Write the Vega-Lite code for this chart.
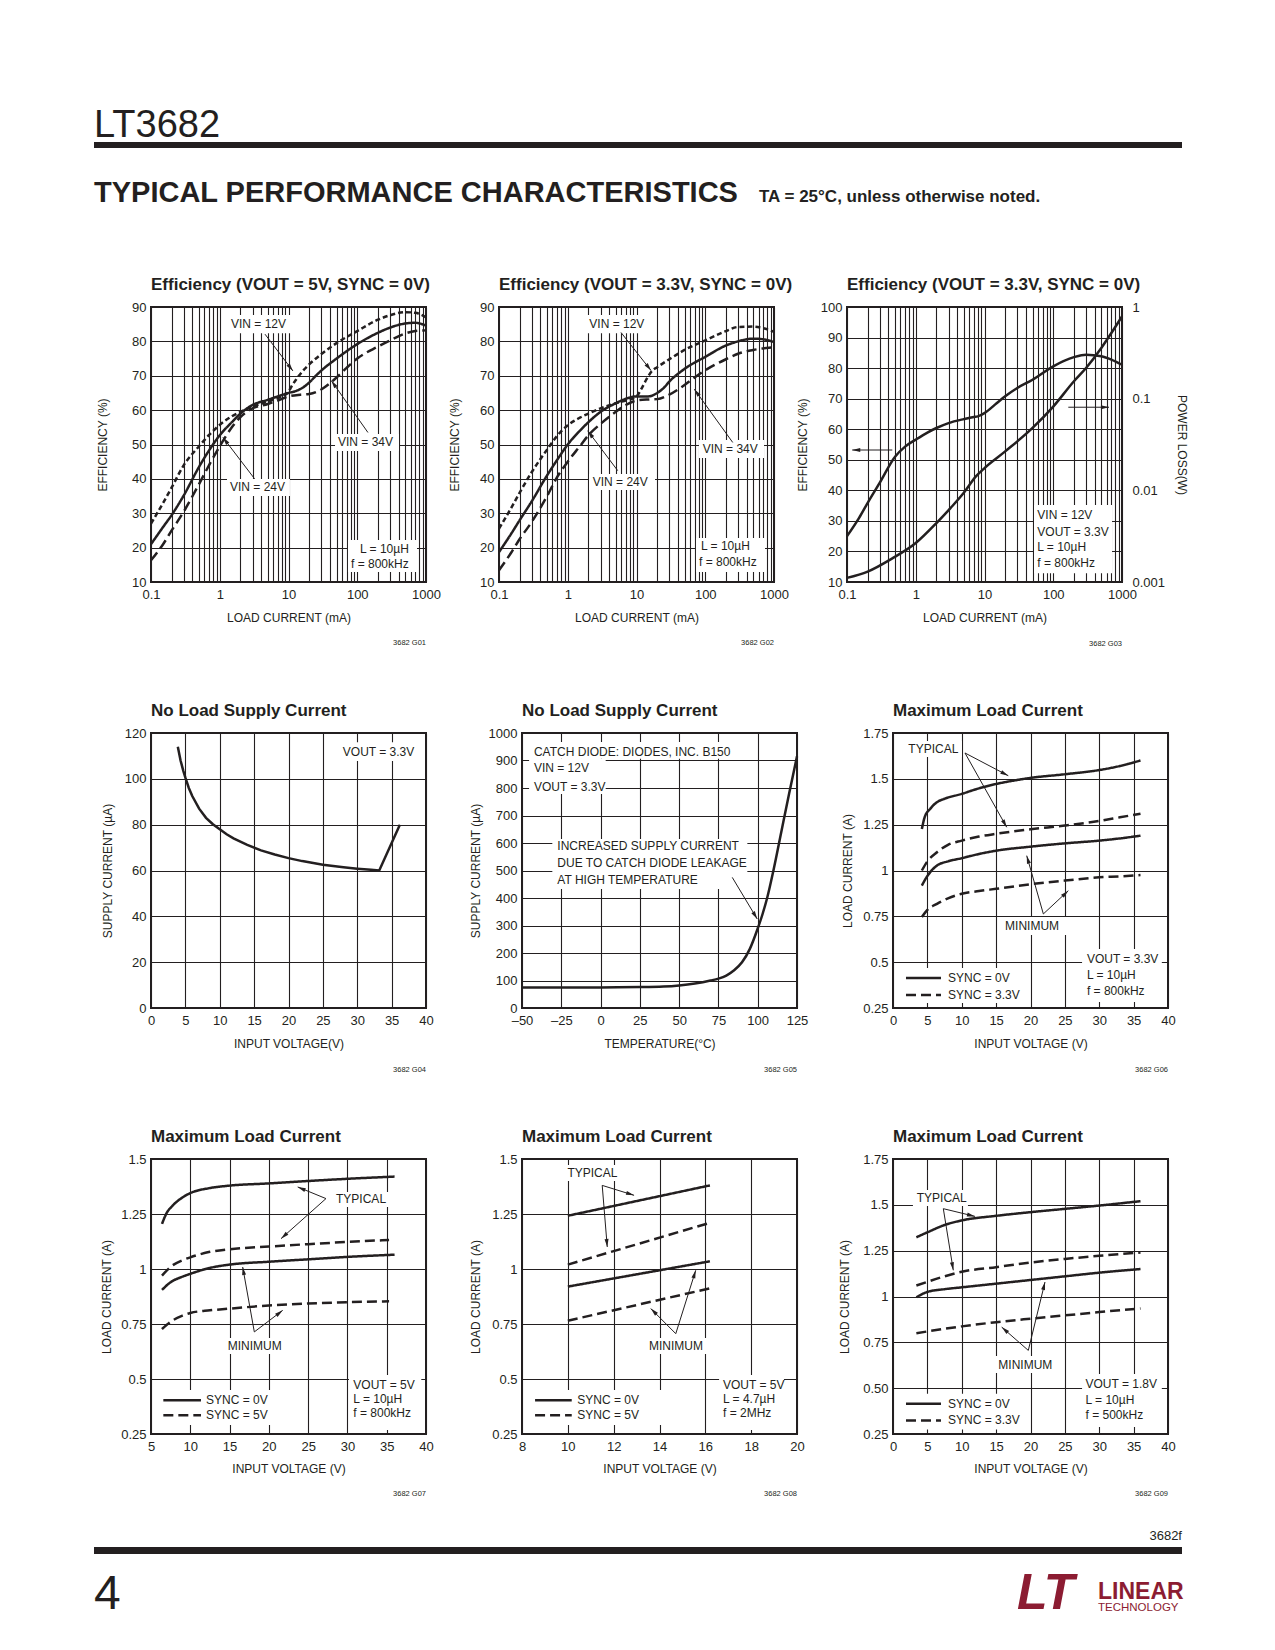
{
"$schema": "https://vega.github.io/schema/vega-lite/v6.json",
"background": "white",
"padding": {"left": 94, "top": 100, "right": 10, "bottom": 10},
"autosize": {"type": "pad"},
"config": {
  "font": "Liberation Sans, Arial, sans-serif",
  "view": {"stroke": "#231f20", "strokeWidth": 2},
  "axis": {"domain": false, "ticks": false, "grid": true, "gridColor": "#231f20", "gridWidth": 1.1, "gridOpacity": 1, "labelColor": "#231f20", "labelFontSize": 13, "labelPadding": 5, "labelFlush": false, "labelOverlap": false, "titleColor": "#231f20", "titleFontSize": 12, "titleFontWeight": "normal"},
  "axisX": {"labelPadding": 6, "titlePadding": 11},
  "title": {"anchor": "start", "frame": "group", "fontSize": 17, "fontWeight": "bold", "color": "#231f20", "offset": 7},
  "text": {"color": "#231f20", "fontSize": 12},
  "line": {"color": "#231f20", "strokeWidth": 2.5},
  "rule": {"color": "#231f20"}
},
"datasets": {
  "c1": [
    {"s":"VIN = 12V","x":0.1,"y":27},{"s":"VIN = 12V","x":0.15,"y":33},{"s":"VIN = 12V","x":0.2,"y":37.5},{"s":"VIN = 12V","x":0.3,"y":44},{"s":"VIN = 12V","x":0.5,"y":49.5},{"s":"VIN = 12V","x":0.7,"y":52.8},{"s":"VIN = 12V","x":1,"y":55.7},{"s":"VIN = 12V","x":1.5,"y":58.2},{"s":"VIN = 12V","x":2,"y":59.5},{"s":"VIN = 12V","x":3,"y":61},{"s":"VIN = 12V","x":5,"y":62.5},{"s":"VIN = 12V","x":7,"y":63.5},{"s":"VIN = 12V","x":9,"y":64.5},{"s":"VIN = 12V","x":10,"y":65.3},{"s":"VIN = 12V","x":11,"y":66.8},{"s":"VIN = 12V","x":13,"y":69},{"s":"VIN = 12V","x":16,"y":71.3},{"s":"VIN = 12V","x":20,"y":73.3},{"s":"VIN = 12V","x":30,"y":76.3},{"s":"VIN = 12V","x":50,"y":79.5},{"s":"VIN = 12V","x":100,"y":83},{"s":"VIN = 12V","x":200,"y":86.3},{"s":"VIN = 12V","x":300,"y":87.6},{"s":"VIN = 12V","x":500,"y":88.5},{"s":"VIN = 12V","x":700,"y":88.3},{"s":"VIN = 12V","x":1000,"y":87},
    {"s":"VIN = 24V","x":0.1,"y":21},{"s":"VIN = 24V","x":0.15,"y":26},{"s":"VIN = 24V","x":0.2,"y":29.5},{"s":"VIN = 24V","x":0.3,"y":35.2},{"s":"VIN = 24V","x":0.5,"y":43.5},{"s":"VIN = 24V","x":0.7,"y":48.3},{"s":"VIN = 24V","x":1,"y":52.7},{"s":"VIN = 24V","x":1.5,"y":56.5},{"s":"VIN = 24V","x":2,"y":59},{"s":"VIN = 24V","x":3,"y":61.5},{"s":"VIN = 24V","x":5,"y":63},{"s":"VIN = 24V","x":7,"y":64},{"s":"VIN = 24V","x":10,"y":65},{"s":"VIN = 24V","x":13,"y":65.6},{"s":"VIN = 24V","x":16,"y":66.5},{"s":"VIN = 24V","x":20,"y":68},{"s":"VIN = 24V","x":25,"y":70},{"s":"VIN = 24V","x":30,"y":71.5},{"s":"VIN = 24V","x":50,"y":75},{"s":"VIN = 24V","x":100,"y":79.2},{"s":"VIN = 24V","x":200,"y":82.5},{"s":"VIN = 24V","x":300,"y":84},{"s":"VIN = 24V","x":500,"y":85.2},{"s":"VIN = 24V","x":700,"y":85.4},{"s":"VIN = 24V","x":1000,"y":84.6},
    {"s":"VIN = 34V","x":0.1,"y":16.3},{"s":"VIN = 34V","x":0.15,"y":21},{"s":"VIN = 34V","x":0.2,"y":25},{"s":"VIN = 34V","x":0.3,"y":30.5},{"s":"VIN = 34V","x":0.5,"y":38.5},{"s":"VIN = 34V","x":0.7,"y":44},{"s":"VIN = 34V","x":1,"y":49.5},{"s":"VIN = 34V","x":1.5,"y":55},{"s":"VIN = 34V","x":2,"y":58},{"s":"VIN = 34V","x":3,"y":60.5},{"s":"VIN = 34V","x":5,"y":61.8},{"s":"VIN = 34V","x":7,"y":62.8},{"s":"VIN = 34V","x":10,"y":64},{"s":"VIN = 34V","x":15,"y":64.5},{"s":"VIN = 34V","x":20,"y":64.7},{"s":"VIN = 34V","x":30,"y":66},{"s":"VIN = 34V","x":40,"y":67.8},{"s":"VIN = 34V","x":50,"y":69.5},{"s":"VIN = 34V","x":70,"y":72.3},{"s":"VIN = 34V","x":100,"y":75},{"s":"VIN = 34V","x":200,"y":78.5},{"s":"VIN = 34V","x":300,"y":80.3},{"s":"VIN = 34V","x":500,"y":82.3},{"s":"VIN = 34V","x":700,"y":83},{"s":"VIN = 34V","x":1000,"y":83.2}
  ],
  "c1_box": [{"x":1.275,"y":87.7,"x2":12.0,"y2":82.4},{"x":1.275,"y":40,"x2":10.5,"y2":35},{"x":47.5,"y":53.05,"x2":405,"y2":48.1},{"x":73.3,"y":22.2,"x2":740,"y2":12.9}],
  "c1_arrow": [{"x":11.6,"y":71.4,"x2":4.55,"y2":82.1,"a":143},{"x":1.11,"y":52.1,"x2":3.22,"y2":40,"a":-37},{"x":41.9,"y":68.6,"x2":143,"y2":53.5,"a":-35}],
  "c1_text": [{"t":"VIN = 12V","x":1.458,"y":85.05},{"t":"VIN = 24V","x":1.41,"y":37.5},{"t":"VIN = 34V","x":52.5,"y":50.6},{"t":"L = 10µH","x":109.7,"y":19.6},{"t":"f = 800kHz","x":81.1,"y":15.2}],
  "c2": [
    {"s":"VIN = 12V","x":0.1,"y":25.5},{"s":"VIN = 12V","x":0.15,"y":31.5},{"s":"VIN = 12V","x":0.2,"y":36},{"s":"VIN = 12V","x":0.3,"y":42},{"s":"VIN = 12V","x":0.5,"y":48.5},{"s":"VIN = 12V","x":0.7,"y":52.5},{"s":"VIN = 12V","x":1,"y":55.6},{"s":"VIN = 12V","x":1.5,"y":57.8},{"s":"VIN = 12V","x":2,"y":59},{"s":"VIN = 12V","x":3,"y":60.5},{"s":"VIN = 12V","x":5,"y":62},{"s":"VIN = 12V","x":7,"y":62.8},{"s":"VIN = 12V","x":10,"y":64},{"s":"VIN = 12V","x":12,"y":66.5},{"s":"VIN = 12V","x":14,"y":69},{"s":"VIN = 12V","x":17,"y":71.5},{"s":"VIN = 12V","x":20,"y":72.5},{"s":"VIN = 12V","x":30,"y":74.8},{"s":"VIN = 12V","x":50,"y":77.5},{"s":"VIN = 12V","x":100,"y":80.3},{"s":"VIN = 12V","x":200,"y":83},{"s":"VIN = 12V","x":300,"y":84.2},{"s":"VIN = 12V","x":500,"y":84.3},{"s":"VIN = 12V","x":700,"y":83.8},{"s":"VIN = 12V","x":1000,"y":82.8},
    {"s":"VIN = 24V","x":0.1,"y":18.7},{"s":"VIN = 24V","x":0.15,"y":24},{"s":"VIN = 24V","x":0.2,"y":28},{"s":"VIN = 24V","x":0.3,"y":33.5},{"s":"VIN = 24V","x":0.5,"y":41},{"s":"VIN = 24V","x":0.7,"y":45.5},{"s":"VIN = 24V","x":1,"y":50},{"s":"VIN = 24V","x":1.5,"y":54},{"s":"VIN = 24V","x":2,"y":56.5},{"s":"VIN = 24V","x":3,"y":59.5},{"s":"VIN = 24V","x":5,"y":62},{"s":"VIN = 24V","x":7,"y":63.3},{"s":"VIN = 24V","x":10,"y":64},{"s":"VIN = 24V","x":15,"y":64},{"s":"VIN = 24V","x":20,"y":65},{"s":"VIN = 24V","x":25,"y":66.5},{"s":"VIN = 24V","x":30,"y":68.3},{"s":"VIN = 24V","x":50,"y":72},{"s":"VIN = 24V","x":100,"y":75.5},{"s":"VIN = 24V","x":200,"y":78.8},{"s":"VIN = 24V","x":300,"y":80},{"s":"VIN = 24V","x":500,"y":80.8},{"s":"VIN = 24V","x":700,"y":80.6},{"s":"VIN = 24V","x":1000,"y":79.8},
    {"s":"VIN = 34V","x":0.1,"y":13.4},{"s":"VIN = 34V","x":0.15,"y":18.5},{"s":"VIN = 34V","x":0.2,"y":22.5},{"s":"VIN = 34V","x":0.3,"y":27.5},{"s":"VIN = 34V","x":0.5,"y":35},{"s":"VIN = 34V","x":0.7,"y":40.5},{"s":"VIN = 34V","x":1,"y":45},{"s":"VIN = 34V","x":1.5,"y":49.5},{"s":"VIN = 34V","x":2,"y":52.7},{"s":"VIN = 34V","x":3,"y":56},{"s":"VIN = 34V","x":5,"y":59.5},{"s":"VIN = 34V","x":7,"y":61.5},{"s":"VIN = 34V","x":10,"y":62.8},{"s":"VIN = 34V","x":15,"y":63.1},{"s":"VIN = 34V","x":20,"y":63.2},{"s":"VIN = 34V","x":30,"y":64.5},{"s":"VIN = 34V","x":50,"y":67.3},{"s":"VIN = 34V","x":70,"y":69.5},{"s":"VIN = 34V","x":100,"y":71.6},{"s":"VIN = 34V","x":200,"y":74.8},{"s":"VIN = 34V","x":300,"y":76.4},{"s":"VIN = 34V","x":500,"y":77.5},{"s":"VIN = 34V","x":1000,"y":78.3}
  ],
  "c2_box": [{"x":1.84,"y":87.7,"x2":18.6,"y2":82.4},{"x":2.04,"y":41.4,"x2":18.6,"y2":36.8},{"x":81,"y":51.3,"x2":716,"y2":46.1},{"x":73.3,"y":22.8,"x2":740,"y2":12.9}],
  "c2_arrow": [{"x":16.3,"y":71.5,"x2":5.95,"y2":82.6,"a":142},{"x":1.95,"y":54,"x2":5.33,"y2":42.4,"a":-37},{"x":69.3,"y":66.1,"x2":251,"y2":50.6,"a":-36}],
  "c2_text": [{"t":"VIN = 12V","x":2.06,"y":85.05},{"t":"VIN = 24V","x":2.31,"y":39.2},{"t":"VIN = 34V","x":91.8,"y":48.7},{"t":"L = 10µH","x":86.7,"y":20.5},{"t":"f = 800kHz","x":81.1,"y":15.8}],
  "c3_eff": [{"x":0.1,"y":25},{"x":0.15,"y":31},{"x":0.2,"y":35.9},{"x":0.3,"y":42.5},{"x":0.5,"y":51},{"x":0.7,"y":54.3},{"x":1,"y":56.6},{"x":1.5,"y":59},{"x":2,"y":60.4},{"x":3,"y":62},{"x":5,"y":63.3},{"x":7,"y":64},{"x":8,"y":64.2},{"x":10,"y":65.3},{"x":15,"y":68.5},{"x":20,"y":70.8},{"x":30,"y":73.5},{"x":50,"y":76.2},{"x":100,"y":80.6},{"x":200,"y":83.6},{"x":300,"y":84.4},{"x":500,"y":83.9},{"x":700,"y":82.8},{"x":1000,"y":81.1}],
  "c3_loss": [{"x":0.1,"y":0.00111},{"x":0.2,"y":0.0013},{"x":0.45,"y":0.0018},{"x":1,"y":0.00266},{"x":2,"y":0.0044},{"x":3.2,"y":0.0064},{"x":5,"y":0.0094},{"x":7.5,"y":0.0142},{"x":10,"y":0.0175},{"x":20,"y":0.0266},{"x":50,"y":0.048},{"x":100,"y":0.082},{"x":200,"y":0.155},{"x":300,"y":0.216},{"x":500,"y":0.357},{"x":700,"y":0.52},{"x":1000,"y":0.79}],
  "c3_box": [{"x":52.5,"y":35.2,"x2":716,"y2":12.9}],
  "c3_arrow": [{"x":0.119,"y":53.2,"x2":0.456,"y2":53.2,"a":-90},{"x":647,"y":67.2,"x2":165.6,"y2":67.2,"a":90}],
  "c3_text": [{"t":"VIN = 12V","x":58.6,"y":31.9},{"t":"VOUT = 3.3V","x":58.6,"y":26.4},{"t":"L = 10µH","x":58.6,"y":21.5},{"t":"f = 800kHz","x":58.6,"y":16.1}],
  "c4": [{"x":3.9,"y":114},{"x":4.3,"y":108},{"x":4.7,"y":103.5},{"x":5,"y":100.5},{"x":5.5,"y":96},{"x":6,"y":92.5},{"x":7,"y":87},{"x":8,"y":83},{"x":9,"y":80.2},{"x":10,"y":78},{"x":11,"y":75.8},{"x":12,"y":74},{"x":14,"y":71.2},{"x":16,"y":68.8},{"x":18,"y":67},{"x":20,"y":65.4},{"x":22,"y":64.1},{"x":25,"y":62.5},{"x":28,"y":61.4},{"x":30,"y":60.8},{"x":32,"y":60.3},{"x":33.2,"y":60},{"x":36.2,"y":80}],
  "c4_box": [{"x":27.3,"y":116,"x2":38.5,"y2":107.8}],
  "c4_text": [{"t":"VOUT = 3.3V","x":27.9,"y":111.7}],
  "c5": [{"x":-50,"y":75},{"x":-25,"y":75},{"x":0,"y":75},{"x":25,"y":76},{"x":40,"y":78},{"x":50,"y":82},{"x":60,"y":89},{"x":70,"y":100},{"x":75,"y":107},{"x":80,"y":118},{"x":85,"y":137},{"x":90,"y":166},{"x":95,"y":215},{"x":100,"y":289},{"x":103,"y":340},{"x":106,"y":400},{"x":110,"y":500},{"x":115,"y":640},{"x":120,"y":780},{"x":125,"y":915}],
  "c5_box": [{"x":-45.5,"y":967,"x2":88.1,"y2":906},{"x":-45.5,"y":906,"x2":3.25,"y2":778},{"x":-30.7,"y":614.5,"x2":93.4,"y2":432.7}],
  "c5_arrow": [{"x":99.7,"y":323.6,"x2":83.8,"y2":475,"a":149}],
  "c5_text": [{"t":"CATCH DIODE: DIODES, INC. B150","x":-42.4,"y":932},{"t":"VIN = 12V","x":-42.4,"y":871.5},{"t":"VOUT = 3.3V","x":-42.4,"y":804.7},{"t":"INCREASED SUPPLY CURRENT","x":-27.5,"y":590},{"t":"DUE TO CATCH DIODE LEAKAGE","x":-27.5,"y":527},{"t":"AT HIGH TEMPERATURE","x":-27.5,"y":466.7}],
  "c6": [
    {"k":"TYPICAL","s":"SYNC = 0V","x":4.2,"y":1.227},{"k":"TYPICAL","s":"SYNC = 0V","x":4.6,"y":1.29},{"k":"TYPICAL","s":"SYNC = 0V","x":5.4,"y":1.336},{"k":"TYPICAL","s":"SYNC = 0V","x":6.5,"y":1.375},{"k":"TYPICAL","s":"SYNC = 0V","x":7.4,"y":1.39},{"k":"TYPICAL","s":"SYNC = 0V","x":10,"y":1.418},{"k":"TYPICAL","s":"SYNC = 0V","x":12.5,"y":1.448},{"k":"TYPICAL","s":"SYNC = 0V","x":15,"y":1.472},{"k":"TYPICAL","s":"SYNC = 0V","x":17.5,"y":1.49},{"k":"TYPICAL","s":"SYNC = 0V","x":20,"y":1.505},{"k":"TYPICAL","s":"SYNC = 0V","x":25,"y":1.525},{"k":"TYPICAL","s":"SYNC = 0V","x":30,"y":1.548},{"k":"TYPICAL","s":"SYNC = 0V","x":33,"y":1.57},{"k":"TYPICAL","s":"SYNC = 0V","x":36,"y":1.6},
    {"k":"TYPICAL","s":"SYNC = 3.3V","x":4.2,"y":1.0},{"k":"TYPICAL","s":"SYNC = 3.3V","x":5,"y":1.05},{"k":"TYPICAL","s":"SYNC = 3.3V","x":6.4,"y":1.1},{"k":"TYPICAL","s":"SYNC = 3.3V","x":8,"y":1.14},{"k":"TYPICAL","s":"SYNC = 3.3V","x":10,"y":1.163},{"k":"TYPICAL","s":"SYNC = 3.3V","x":12.5,"y":1.185},{"k":"TYPICAL","s":"SYNC = 3.3V","x":15,"y":1.2},{"k":"TYPICAL","s":"SYNC = 3.3V","x":20,"y":1.225},{"k":"TYPICAL","s":"SYNC = 3.3V","x":25,"y":1.245},{"k":"TYPICAL","s":"SYNC = 3.3V","x":30,"y":1.27},{"k":"TYPICAL","s":"SYNC = 3.3V","x":33,"y":1.29},{"k":"TYPICAL","s":"SYNC = 3.3V","x":36,"y":1.31},
    {"k":"MINIMUM","s":"SYNC = 0V","x":4.2,"y":0.918},{"k":"MINIMUM","s":"SYNC = 0V","x":5,"y":0.97},{"k":"MINIMUM","s":"SYNC = 0V","x":6.4,"y":1.027},{"k":"MINIMUM","s":"SYNC = 0V","x":8,"y":1.05},{"k":"MINIMUM","s":"SYNC = 0V","x":10,"y":1.067},{"k":"MINIMUM","s":"SYNC = 0V","x":12.5,"y":1.09},{"k":"MINIMUM","s":"SYNC = 0V","x":15,"y":1.108},{"k":"MINIMUM","s":"SYNC = 0V","x":20,"y":1.13},{"k":"MINIMUM","s":"SYNC = 0V","x":25,"y":1.148},{"k":"MINIMUM","s":"SYNC = 0V","x":30,"y":1.163},{"k":"MINIMUM","s":"SYNC = 0V","x":33,"y":1.175},{"k":"MINIMUM","s":"SYNC = 0V","x":36,"y":1.19},
    {"k":"MINIMUM","s":"SYNC = 3.3V","x":4.2,"y":0.746},{"k":"MINIMUM","s":"SYNC = 3.3V","x":5,"y":0.785},{"k":"MINIMUM","s":"SYNC = 3.3V","x":6.4,"y":0.818},{"k":"MINIMUM","s":"SYNC = 3.3V","x":8,"y":0.848},{"k":"MINIMUM","s":"SYNC = 3.3V","x":10,"y":0.873},{"k":"MINIMUM","s":"SYNC = 3.3V","x":12.5,"y":0.888},{"k":"MINIMUM","s":"SYNC = 3.3V","x":15,"y":0.9},{"k":"MINIMUM","s":"SYNC = 3.3V","x":20,"y":0.925},{"k":"MINIMUM","s":"SYNC = 3.3V","x":25,"y":0.945},{"k":"MINIMUM","s":"SYNC = 3.3V","x":30,"y":0.963},{"k":"MINIMUM","s":"SYNC = 3.3V","x":33,"y":0.968},{"k":"MINIMUM","s":"SYNC = 3.3V","x":36,"y":0.975}
  ],
  "c6_box": [{"x":1.75,"y":1.706,"x2":10.03,"y2":1.619},{"x":15.85,"y":0.746,"x2":25.45,"y2":0.648},{"x":27.5,"y":0.572,"x2":39.1,"y2":0.283},{"x":1.16,"y":0.468,"x2":19.5,"y2":0.277}],
  "c6_arrow": [{"x":16.77,"y":1.517,"x2":10.47,"y2":1.641,"a":118},{"x":16.54,"y":1.236,"x2":10.47,"y2":1.641,"a":151},{"x":19.45,"y":1.081,"x2":21.87,"y2":0.763,"a":-16},{"x":25.5,"y":0.89,"x2":21.87,"y2":0.763,"a":47}],
  "c6_leg": [{"x":1.89,"x2":6.98,"y":0.414,"s":"SYNC = 0V"},{"x":1.89,"x2":6.98,"y":0.321,"s":"SYNC = 3.3V"}],
  "c6_text": [{"t":"TYPICAL","x":2.23,"y":1.663},{"t":"MINIMUM","x":16.3,"y":0.699},{"t":"VOUT = 3.3V","x":28.2,"y":0.517},{"t":"L = 10µH","x":28.2,"y":0.43},{"t":"f = 800kHz","x":28.2,"y":0.343},{"t":"SYNC = 0V","x":8.0,"y":0.414},{"t":"SYNC = 3.3V","x":8.0,"y":0.321}],
  "c7": [
    {"k":"TYPICAL","s":"SYNC = 0V","x":6.4,"y":1.205},{"k":"TYPICAL","s":"SYNC = 0V","x":7,"y":1.255},{"k":"TYPICAL","s":"SYNC = 0V","x":7.75,"y":1.288},{"k":"TYPICAL","s":"SYNC = 0V","x":9,"y":1.325},{"k":"TYPICAL","s":"SYNC = 0V","x":10,"y":1.345},{"k":"TYPICAL","s":"SYNC = 0V","x":12.5,"y":1.368},{"k":"TYPICAL","s":"SYNC = 0V","x":15,"y":1.379},{"k":"TYPICAL","s":"SYNC = 0V","x":20,"y":1.389},{"k":"TYPICAL","s":"SYNC = 0V","x":25,"y":1.4},{"k":"TYPICAL","s":"SYNC = 0V","x":30,"y":1.41},{"k":"TYPICAL","s":"SYNC = 0V","x":36,"y":1.42},
    {"k":"TYPICAL","s":"SYNC = 5V","x":6.4,"y":0.97},{"k":"TYPICAL","s":"SYNC = 5V","x":7.5,"y":1.01},{"k":"TYPICAL","s":"SYNC = 5V","x":9,"y":1.04},{"k":"TYPICAL","s":"SYNC = 5V","x":10,"y":1.053},{"k":"TYPICAL","s":"SYNC = 5V","x":12.5,"y":1.078},{"k":"TYPICAL","s":"SYNC = 5V","x":15,"y":1.09},{"k":"TYPICAL","s":"SYNC = 5V","x":20,"y":1.102},{"k":"TYPICAL","s":"SYNC = 5V","x":25,"y":1.113},{"k":"TYPICAL","s":"SYNC = 5V","x":30,"y":1.123},{"k":"TYPICAL","s":"SYNC = 5V","x":35.3,"y":1.132},
    {"k":"MINIMUM","s":"SYNC = 0V","x":6.4,"y":0.905},{"k":"MINIMUM","s":"SYNC = 0V","x":7.5,"y":0.94},{"k":"MINIMUM","s":"SYNC = 0V","x":9,"y":0.965},{"k":"MINIMUM","s":"SYNC = 0V","x":10,"y":0.978},{"k":"MINIMUM","s":"SYNC = 0V","x":12.5,"y":1.005},{"k":"MINIMUM","s":"SYNC = 0V","x":15,"y":1.02},{"k":"MINIMUM","s":"SYNC = 0V","x":20,"y":1.033},{"k":"MINIMUM","s":"SYNC = 0V","x":25,"y":1.044},{"k":"MINIMUM","s":"SYNC = 0V","x":30,"y":1.055},{"k":"MINIMUM","s":"SYNC = 0V","x":36,"y":1.065},
    {"k":"MINIMUM","s":"SYNC = 5V","x":6.4,"y":0.727},{"k":"MINIMUM","s":"SYNC = 5V","x":7.5,"y":0.76},{"k":"MINIMUM","s":"SYNC = 5V","x":9,"y":0.788},{"k":"MINIMUM","s":"SYNC = 5V","x":10,"y":0.8},{"k":"MINIMUM","s":"SYNC = 5V","x":12.5,"y":0.812},{"k":"MINIMUM","s":"SYNC = 5V","x":15,"y":0.82},{"k":"MINIMUM","s":"SYNC = 5V","x":20,"y":0.834},{"k":"MINIMUM","s":"SYNC = 5V","x":25,"y":0.843},{"k":"MINIMUM","s":"SYNC = 5V","x":30,"y":0.849},{"k":"MINIMUM","s":"SYNC = 5V","x":35.3,"y":0.853}
  ],
  "c7_box": [{"x":28.2,"y":1.35,"x2":35.3,"y2":1.282},{"x":14.3,"y":0.686,"x2":22.7,"y2":0.614},{"x":30.2,"y":0.518,"x2":39.4,"y2":0.268},{"x":5.9,"y":0.45,"x2":23.2,"y2":0.291}],
  "c7_arrow": [{"x":23.67,"y":1.373,"x2":27.27,"y2":1.32,"a":-67},{"x":21.55,"y":1.138,"x2":27.27,"y2":1.32,"a":-132},{"x":16.67,"y":1.009,"x2":18.15,"y2":0.714,"a":-10},{"x":21.76,"y":0.812,"x2":18.15,"y2":0.714,"a":52}],
  "c7_leg": [{"x":6.57,"x2":11.36,"y":0.403,"s":"SYNC = 0V"},{"x":6.57,"x2":11.36,"y":0.335,"s":"SYNC = 5V"}],
  "c7_text": [{"t":"TYPICAL","x":28.55,"y":1.316},{"t":"MINIMUM","x":14.76,"y":0.65},{"t":"VOUT = 5V","x":30.75,"y":0.471},{"t":"L = 10µH","x":30.75,"y":0.41},{"t":"f = 800kHz","x":30.75,"y":0.345},{"t":"SYNC = 0V","x":12.0,"y":0.403},{"t":"SYNC = 5V","x":12.0,"y":0.335}],
  "c8": [
    {"k":"TYPICAL","s":"SYNC = 0V","x":10,"y":1.242},{"k":"TYPICAL","s":"SYNC = 0V","x":16.2,"y":1.38},
    {"k":"TYPICAL","s":"SYNC = 5V","x":10,"y":1.02},{"k":"TYPICAL","s":"SYNC = 5V","x":16.2,"y":1.21},
    {"k":"MINIMUM","s":"SYNC = 0V","x":10,"y":0.92},{"k":"MINIMUM","s":"SYNC = 0V","x":16.2,"y":1.035},
    {"k":"MINIMUM","s":"SYNC = 5V","x":10,"y":0.765},{"k":"MINIMUM","s":"SYNC = 5V","x":16.2,"y":0.912}
  ],
  "c8_box": [{"x":9.83,"y":1.473,"x2":12.23,"y2":1.4},{"x":13.41,"y":0.686,"x2":16.29,"y2":0.614},{"x":16.6,"y":0.518,"x2":19.43,"y2":0.268},{"x":8.35,"y":0.45,"x2":14.28,"y2":0.291}],
  "c8_arrow": [{"x":12.89,"y":1.335,"x2":11.5,"y2":1.38,"a":107},{"x":11.72,"y":1.1,"x2":11.5,"y2":1.38,"a":175},{"x":15.58,"y":0.994,"x2":14.71,"y2":0.706,"a":17},{"x":13.62,"y":0.82,"x2":14.71,"y2":0.706,"a":-45}],
  "c8_leg": [{"x":8.57,"x2":10.17,"y":0.403,"s":"SYNC = 0V"},{"x":8.57,"x2":10.17,"y":0.335,"s":"SYNC = 5V"}],
  "c8_text": [{"t":"TYPICAL","x":9.98,"y":1.436},{"t":"MINIMUM","x":13.54,"y":0.65},{"t":"VOUT = 5V","x":16.77,"y":0.471},{"t":"L = 4.7µH","x":16.77,"y":0.41},{"t":"f = 2MHz","x":16.77,"y":0.345},{"t":"SYNC = 0V","x":10.41,"y":0.403},{"t":"SYNC = 5V","x":10.41,"y":0.335}],
  "c9": [
    {"k":"TYPICAL","s":"SYNC = 0V","x":3.4,"y":1.323},{"k":"TYPICAL","s":"SYNC = 0V","x":5,"y":1.35},{"k":"TYPICAL","s":"SYNC = 0V","x":7.5,"y":1.39},{"k":"TYPICAL","s":"SYNC = 0V","x":10,"y":1.415},{"k":"TYPICAL","s":"SYNC = 0V","x":15,"y":1.44},{"k":"TYPICAL","s":"SYNC = 0V","x":20,"y":1.46},{"k":"TYPICAL","s":"SYNC = 0V","x":25,"y":1.478},{"k":"TYPICAL","s":"SYNC = 0V","x":30,"y":1.496},{"k":"TYPICAL","s":"SYNC = 0V","x":36,"y":1.52},
    {"k":"TYPICAL","s":"SYNC = 3.3V","x":3.4,"y":1.06},{"k":"TYPICAL","s":"SYNC = 3.3V","x":5,"y":1.08},{"k":"TYPICAL","s":"SYNC = 3.3V","x":7.5,"y":1.11},{"k":"TYPICAL","s":"SYNC = 3.3V","x":10,"y":1.135},{"k":"TYPICAL","s":"SYNC = 3.3V","x":15,"y":1.16},{"k":"TYPICAL","s":"SYNC = 3.3V","x":20,"y":1.185},{"k":"TYPICAL","s":"SYNC = 3.3V","x":25,"y":1.205},{"k":"TYPICAL","s":"SYNC = 3.3V","x":30,"y":1.222},{"k":"TYPICAL","s":"SYNC = 3.3V","x":36,"y":1.24},
    {"k":"MINIMUM","s":"SYNC = 0V","x":3.4,"y":0.996},{"k":"MINIMUM","s":"SYNC = 0V","x":5,"y":1.025},{"k":"MINIMUM","s":"SYNC = 0V","x":7.5,"y":1.04},{"k":"MINIMUM","s":"SYNC = 0V","x":10,"y":1.05},{"k":"MINIMUM","s":"SYNC = 0V","x":15,"y":1.07},{"k":"MINIMUM","s":"SYNC = 0V","x":20,"y":1.09},{"k":"MINIMUM","s":"SYNC = 0V","x":25,"y":1.11},{"k":"MINIMUM","s":"SYNC = 0V","x":30,"y":1.13},{"k":"MINIMUM","s":"SYNC = 0V","x":36,"y":1.15},
    {"k":"MINIMUM","s":"SYNC = 3.3V","x":3.4,"y":0.8},{"k":"MINIMUM","s":"SYNC = 3.3V","x":10,"y":0.837},{"k":"MINIMUM","s":"SYNC = 3.3V","x":15,"y":0.86},{"k":"MINIMUM","s":"SYNC = 3.3V","x":20,"y":0.879},{"k":"MINIMUM","s":"SYNC = 3.3V","x":25,"y":0.897},{"k":"MINIMUM","s":"SYNC = 3.3V","x":30,"y":0.915},{"k":"MINIMUM","s":"SYNC = 3.3V","x":36,"y":0.935}
  ],
  "c9_box": [{"x":2.9,"y":1.581,"x2":10.9,"y2":1.494},{"x":14.8,"y":0.675,"x2":24.3,"y2":0.583},{"x":27.5,"y":0.577,"x2":39.1,"y2":0.288},{"x":1.16,"y":0.47,"x2":19.5,"y2":0.275}],
  "c9_arrow": [{"x":11.93,"y":1.437,"x2":7.32,"y2":1.479,"a":104},{"x":8.77,"y":1.143,"x2":7.32,"y2":1.479,"a":170},{"x":22.11,"y":1.079,"x2":19.68,"y2":0.706,"a":14},{"x":15.81,"y":0.833,"x2":19.68,"y2":0.706,"a":-49}],
  "c9_leg": [{"x":1.89,"x2":6.98,"y":0.415,"s":"SYNC = 0V"},{"x":1.89,"x2":6.98,"y":0.324,"s":"SYNC = 3.3V"}],
  "c9_text": [{"t":"TYPICAL","x":3.45,"y":1.537},{"t":"MINIMUM","x":15.32,"y":0.629},{"t":"VOUT = 1.8V","x":28.0,"y":0.524},{"t":"L = 10µH","x":28.0,"y":0.438},{"t":"f = 500kHz","x":28.0,"y":0.352},{"t":"SYNC = 0V","x":8.0,"y":0.415},{"t":"SYNC = 3.3V","x":8.0,"y":0.324}]
},
"resolve": {"scale": {"strokeDash": "independent"}},
"spacing": 0,
"vconcat": [
  {
    "width": 1031, "height": 175,
    "view": {"stroke": null},
    "encoding": {
      "x": {"field": "x", "type": "quantitative", "scale": {"domain": [0, 1031]}, "axis": null},
      "y": {"field": "y", "type": "quantitative", "scale": {"domain": [0, 175], "reverse": true}, "axis": null}
    },
    "layer": [
      {"data": {"values": [{"x": -57, "y": 42, "x2": 1031, "y2": 48}]}, "mark": {"type": "rect", "color": "#231f20"}, "encoding": {"x2": {"field": "x2"}, "y2": {"field": "y2"}}},
      {"data": {"values": [{"x": -57, "y": 37, "t": "LT3682"}]}, "mark": {"type": "text", "align": "left", "baseline": "alphabetic", "fontSize": 38}, "encoding": {"text": {"field": "t", "type": "nominal"}}},
      {"data": {"values": [{"x": -57, "y": 102, "t": "TYPICAL PERFORMANCE CHARACTERISTICS"}]}, "mark": {"type": "text", "align": "left", "baseline": "alphabetic", "fontSize": 29, "fontWeight": "bold"}, "encoding": {"text": {"field": "t", "type": "nominal"}}},
      {"data": {"values": [{"x": 608, "y": 102, "t": "TA = 25°C, unless otherwise noted."}]}, "mark": {"type": "text", "align": "left", "baseline": "alphabetic", "fontSize": 17, "fontWeight": "bold"}, "encoding": {"text": {"field": "t", "type": "nominal"}}}
    ]
  },
  {
    "resolve": {"scale": {"strokeDash": "independent"}},
    "spacing": 52,
    "vconcat": [
      {
        "bounds": "flush", "spacing": 73,
        "resolve": {"scale": {"strokeDash": "independent"}},
        "hconcat": [
          {
            "width": 275, "height": 275,
            "title": {"text": "Efficiency (VOUT = 5V, SYNC = 0V)"},
            "encoding": {
              "x": {"field": "x", "type": "quantitative", "scale": {"type": "log", "domain": [0.1, 1000]}, "axis": {"title": "LOAD CURRENT (mA)", "values": [0.1,0.2,0.3,0.4,0.5,0.6,0.7,0.8,0.9,1,2,3,4,5,6,7,8,9,10,20,30,40,50,60,70,80,90,100,200,300,400,500,600,700,800,900,1000], "format": "~g", "labelExpr": "(datum.value==0.1||datum.value==1||datum.value==10||datum.value==100||datum.value==1000)?datum.label:''"}},
              "y": {"field": "y", "type": "quantitative", "scale": {"domain": [10, 90]}, "axis": {"title": "EFFICIENCY (%)", "values": [10,20,30,40,50,60,70,80,90], "titlePadding": 22}}
            },
            "layer": [
              {"data": {"name": "c1_box"}, "mark": {"type": "rect", "color": "white"}, "encoding": {"x2": {"field": "x2"}, "y2": {"field": "y2"}}},
              {"data": {"name": "c1"}, "mark": {"type": "line", "interpolate": "monotone"}, "encoding": {"strokeDash": {"field": "s", "type": "nominal", "scale": {"domain": ["VIN = 12V", "VIN = 24V", "VIN = 34V"], "range": [[5,3],[1,0],[10,5]]}, "legend": null}}},
              {"data": {"name": "c1_arrow"}, "mark": {"type": "rule", "strokeWidth": 1}, "encoding": {"x2": {"field": "x2"}, "y2": {"field": "y2"}}},
              {"data": {"name": "c1_arrow"}, "mark": {"type": "point", "shape": "M0,0L0.45,1.8L-0.45,1.8Z", "filled": true, "size": 80, "color": "#231f20", "opacity": 1}, "encoding": {"angle": {"field": "a", "type": "quantitative", "scale": null}}},
              {"data": {"name": "c1_text"}, "mark": {"type": "text", "align": "left", "baseline": "middle"}, "encoding": {"text": {"field": "t", "type": "nominal"}}},
              {"data": {"values": [{"x": 1000, "y": -7.75, "t": "3682 G01"}]}, "mark": {"type": "text", "align": "right", "baseline": "middle", "fontSize": 7.5}, "encoding": {"text": {"field": "t", "type": "nominal"}}}
            ]
          },
          {
            "width": 275, "height": 275,
            "title": {"text": "Efficiency (VOUT = 3.3V, SYNC = 0V)"},
            "encoding": {
              "x": {"field": "x", "type": "quantitative", "scale": {"type": "log", "domain": [0.1, 1000]}, "axis": {"title": "LOAD CURRENT (mA)", "values": [0.1,0.2,0.3,0.4,0.5,0.6,0.7,0.8,0.9,1,2,3,4,5,6,7,8,9,10,20,30,40,50,60,70,80,90,100,200,300,400,500,600,700,800,900,1000], "format": "~g", "labelExpr": "(datum.value==0.1||datum.value==1||datum.value==10||datum.value==100||datum.value==1000)?datum.label:''"}},
              "y": {"field": "y", "type": "quantitative", "scale": {"domain": [10, 90]}, "axis": {"title": "EFFICIENCY (%)", "values": [10,20,30,40,50,60,70,80,90], "titlePadding": 18}}
            },
            "layer": [
              {"data": {"name": "c2_box"}, "mark": {"type": "rect", "color": "white"}, "encoding": {"x2": {"field": "x2"}, "y2": {"field": "y2"}}},
              {"data": {"name": "c2"}, "mark": {"type": "line", "interpolate": "monotone"}, "encoding": {"strokeDash": {"field": "s", "type": "nominal", "scale": {"domain": ["VIN = 12V", "VIN = 24V", "VIN = 34V"], "range": [[5,3],[1,0],[10,5]]}, "legend": null}}},
              {"data": {"name": "c2_arrow"}, "mark": {"type": "rule", "strokeWidth": 1}, "encoding": {"x2": {"field": "x2"}, "y2": {"field": "y2"}}},
              {"data": {"name": "c2_arrow"}, "mark": {"type": "point", "shape": "M0,0L0.45,1.8L-0.45,1.8Z", "filled": true, "size": 80, "color": "#231f20", "opacity": 1}, "encoding": {"angle": {"field": "a", "type": "quantitative", "scale": null}}},
              {"data": {"name": "c2_text"}, "mark": {"type": "text", "align": "left", "baseline": "middle"}, "encoding": {"text": {"field": "t", "type": "nominal"}}},
              {"data": {"values": [{"x": 1000, "y": -7.75, "t": "3682 G02"}]}, "mark": {"type": "text", "align": "right", "baseline": "middle", "fontSize": 7.5}, "encoding": {"text": {"field": "t", "type": "nominal"}}}
            ]
          },
          {
            "width": 275, "height": 275,
            "title": {"text": "Efficiency (VOUT = 3.3V, SYNC = 0V)"},
            "resolve": {"scale": {"y": "independent"}},
            "layer": [
              {
                "encoding": {
                  "x": {"field": "x", "type": "quantitative", "scale": {"type": "log", "domain": [0.1, 1000]}, "axis": {"title": "LOAD CURRENT (mA)", "values": [0.1,0.2,0.3,0.4,0.5,0.6,0.7,0.8,0.9,1,2,3,4,5,6,7,8,9,10,20,30,40,50,60,70,80,90,100,200,300,400,500,600,700,800,900,1000], "format": "~g", "labelExpr": "(datum.value==0.1||datum.value==1||datum.value==10||datum.value==100||datum.value==1000)?datum.label:''"}},
                  "y": {"field": "y", "type": "quantitative", "scale": {"domain": [10, 100]}, "axis": {"title": "EFFICIENCY (%)", "values": [10,20,30,40,50,60,70,80,90,100], "titlePadding": 11}}
                },
                "layer": [
                  {"data": {"name": "c3_box"}, "mark": {"type": "rect", "color": "white"}, "encoding": {"x2": {"field": "x2"}, "y2": {"field": "y2"}}},
                  {"data": {"name": "c3_eff"}, "mark": {"type": "line", "interpolate": "monotone"}},
                  {"data": {"name": "c3_arrow"}, "mark": {"type": "rule", "strokeWidth": 1}, "encoding": {"x2": {"field": "x2"}, "y2": {"field": "y2"}}},
                  {"data": {"name": "c3_arrow"}, "mark": {"type": "point", "shape": "M0,0L0.45,1.8L-0.45,1.8Z", "filled": true, "size": 80, "color": "#231f20", "opacity": 1}, "encoding": {"angle": {"field": "a", "type": "quantitative", "scale": null}}},
                  {"data": {"name": "c3_text"}, "mark": {"type": "text", "align": "left", "baseline": "middle"}, "encoding": {"text": {"field": "t", "type": "nominal"}}},
                  {"data": {"values": [{"x": 1000, "y": -10.3, "t": "3682 G03"}]}, "mark": {"type": "text", "align": "right", "baseline": "middle", "fontSize": 7.5}, "encoding": {"text": {"field": "t", "type": "nominal"}}}
                ]
              },
              {
                "data": {"name": "c3_loss"},
                "mark": {"type": "line", "interpolate": "monotone"},
                "encoding": {
                  "x": {"field": "x", "type": "quantitative", "scale": {"type": "log", "domain": [0.1, 1000]}, "axis": {"title": "LOAD CURRENT (mA)", "values": [0.1,0.2,0.3,0.4,0.5,0.6,0.7,0.8,0.9,1,2,3,4,5,6,7,8,9,10,20,30,40,50,60,70,80,90,100,200,300,400,500,600,700,800,900,1000], "format": "~g", "labelExpr": "(datum.value==0.1||datum.value==1||datum.value==10||datum.value==100||datum.value==1000)?datum.label:''"}},
                  "y": {"field": "y", "type": "quantitative", "scale": {"type": "log", "domain": [0.001, 1]}, "axis": {"orient": "right", "title": "POWER LOSS(W)", "values": [0.001, 0.01, 0.1, 1], "labelExpr": "format(datum.value,'~g')", "grid": false, "labelPadding": 10, "titlePadding": 10}}
                }
              }
            ]
          }
        ]
      },
      {
        "bounds": "flush", "spacing": 96,
        "resolve": {"scale": {"strokeDash": "independent"}},
        "hconcat": [
          {
            "width": 275, "height": 275,
            "title": {"text": "No Load Supply Current"},
            "encoding": {
              "x": {"field": "x", "type": "quantitative", "scale": {"domain": [0, 40]}, "axis": {"title": "INPUT VOLTAGE(V)", "values": [0,5,10,15,20,25,30,35,40]}},
              "y": {"field": "y", "type": "quantitative", "scale": {"domain": [0, 120]}, "axis": {"title": "SUPPLY CURRENT (µA)", "values": [0,20,40,60,80,100,120], "titlePadding": 10}}
            },
            "layer": [
              {"data": {"name": "c4_box"}, "mark": {"type": "rect", "color": "white"}, "encoding": {"x2": {"field": "x2"}, "y2": {"field": "y2"}}},
              {"data": {"name": "c4"}, "mark": {"type": "line"}},
              {"data": {"name": "c4_text"}, "mark": {"type": "text", "align": "left", "baseline": "middle"}, "encoding": {"text": {"field": "t", "type": "nominal"}}},
              {"data": {"values": [{"x": 40, "y": -27, "t": "3682 G04"}]}, "mark": {"type": "text", "align": "right", "baseline": "middle", "fontSize": 7.5}, "encoding": {"text": {"field": "t", "type": "nominal"}}}
            ]
          },
          {
            "width": 275, "height": 275,
            "title": {"text": "No Load Supply Current"},
            "encoding": {
              "x": {"field": "x", "type": "quantitative", "scale": {"domain": [-50, 125]}, "axis": {"title": "TEMPERATURE(°C)", "values": [-50,-25,0,25,50,75,100,125], "labelExpr": "datum.value<0?'–'+abs(datum.value):''+datum.value"}},
              "y": {"field": "y", "type": "quantitative", "scale": {"domain": [0, 1000]}, "axis": {"title": "SUPPLY CURRENT (µA)", "values": [0,100,200,300,400,500,600,700,800,900,1000], "labelExpr": "''+datum.value", "titlePadding": 6}}
            },
            "layer": [
              {"data": {"name": "c5_box"}, "mark": {"type": "rect", "color": "white"}, "encoding": {"x2": {"field": "x2"}, "y2": {"field": "y2"}}},
              {"data": {"name": "c5"}, "mark": {"type": "line", "interpolate": "monotone"}},
              {"data": {"name": "c5_arrow"}, "mark": {"type": "rule", "strokeWidth": 1}, "encoding": {"x2": {"field": "x2"}, "y2": {"field": "y2"}}},
              {"data": {"name": "c5_arrow"}, "mark": {"type": "point", "shape": "M0,0L0.45,1.8L-0.45,1.8Z", "filled": true, "size": 80, "color": "#231f20", "opacity": 1}, "encoding": {"angle": {"field": "a", "type": "quantitative", "scale": null}}},
              {"data": {"name": "c5_text"}, "mark": {"type": "text", "align": "left", "baseline": "middle"}, "encoding": {"text": {"field": "t", "type": "nominal"}}},
              {"data": {"values": [{"x": 125, "y": -225, "t": "3682 G05"}]}, "mark": {"type": "text", "align": "right", "baseline": "middle", "fontSize": 7.5}, "encoding": {"text": {"field": "t", "type": "nominal"}}}
            ]
          },
          {
            "width": 275, "height": 275,
            "title": {"text": "Maximum Load Current"},
            "encoding": {
              "x": {"field": "x", "type": "quantitative", "scale": {"domain": [0, 40]}, "axis": {"title": "INPUT VOLTAGE (V)", "values": [0,5,10,15,20,25,30,35,40]}},
              "y": {"field": "y", "type": "quantitative", "scale": {"domain": [0.25, 1.75]}, "axis": {"title": "LOAD CURRENT (A)", "values": [0.25,0.5,0.75,1,1.25,1.5,1.75], "labelExpr": "format(datum.value,'~g')", "titlePadding": 8}}
            },
            "layer": [
              {"data": {"name": "c6_box"}, "mark": {"type": "rect", "color": "white"}, "encoding": {"x2": {"field": "x2"}, "y2": {"field": "y2"}}},
              {"data": {"name": "c6"}, "mark": {"type": "line", "interpolate": "monotone"}, "encoding": {"detail": {"field": "k", "type": "nominal"}, "strokeDash": {"field": "s", "type": "nominal", "scale": {"domain": ["SYNC = 0V", "SYNC = 3.3V"], "range": [[1,0],[10,5]]}, "legend": null}}},
              {"data": {"name": "c6_leg"}, "transform": [{"filter": "datum.s == 'SYNC = 0V'"}], "mark": {"type": "rule", "strokeWidth": 2.5}, "encoding": {"x2": {"field": "x2"}}},
              {"data": {"name": "c6_leg"}, "transform": [{"filter": "datum.s != 'SYNC = 0V'"}], "mark": {"type": "rule", "strokeWidth": 2.5, "strokeDash": [10,5]}, "encoding": {"x2": {"field": "x2"}}},
              {"data": {"name": "c6_arrow"}, "mark": {"type": "rule", "strokeWidth": 1}, "encoding": {"x2": {"field": "x2"}, "y2": {"field": "y2"}}},
              {"data": {"name": "c6_arrow"}, "mark": {"type": "point", "shape": "M0,0L0.45,1.8L-0.45,1.8Z", "filled": true, "size": 80, "color": "#231f20", "opacity": 1}, "encoding": {"angle": {"field": "a", "type": "quantitative", "scale": null}}},
              {"data": {"name": "c6_text"}, "mark": {"type": "text", "align": "left", "baseline": "middle"}, "encoding": {"text": {"field": "t", "type": "nominal"}}},
              {"data": {"values": [{"x": 40, "y": -0.088, "t": "3682 G06"}]}, "mark": {"type": "text", "align": "right", "baseline": "middle", "fontSize": 7.5}, "encoding": {"text": {"field": "t", "type": "nominal"}}}
            ]
          }
        ]
      },
      {
        "bounds": "flush", "spacing": 96,
        "resolve": {"scale": {"strokeDash": "independent"}},
        "hconcat": [
          {
            "width": 275, "height": 275,
            "title": {"text": "Maximum Load Current"},
            "encoding": {
              "x": {"field": "x", "type": "quantitative", "scale": {"domain": [5, 40]}, "axis": {"title": "INPUT VOLTAGE (V)", "values": [5,10,15,20,25,30,35,40], "titlePadding": 10}},
              "y": {"field": "y", "type": "quantitative", "scale": {"domain": [0.25, 1.5]}, "axis": {"title": "LOAD CURRENT (A)", "values": [0.25,0.5,0.75,1,1.25,1.5], "labelExpr": "format(datum.value,'~g')", "titlePadding": 7}}
            },
            "layer": [
              {"data": {"name": "c7_box"}, "mark": {"type": "rect", "color": "white"}, "encoding": {"x2": {"field": "x2"}, "y2": {"field": "y2"}}},
              {"data": {"name": "c7"}, "mark": {"type": "line", "interpolate": "monotone"}, "encoding": {"detail": {"field": "k", "type": "nominal"}, "strokeDash": {"field": "s", "type": "nominal", "scale": {"domain": ["SYNC = 0V", "SYNC = 5V"], "range": [[1,0],[10,5]]}, "legend": null}}},
              {"data": {"name": "c7_leg"}, "transform": [{"filter": "datum.s == 'SYNC = 0V'"}], "mark": {"type": "rule", "strokeWidth": 2.5}, "encoding": {"x2": {"field": "x2"}}},
              {"data": {"name": "c7_leg"}, "transform": [{"filter": "datum.s != 'SYNC = 0V'"}], "mark": {"type": "rule", "strokeWidth": 2.5, "strokeDash": [10,5]}, "encoding": {"x2": {"field": "x2"}}},
              {"data": {"name": "c7_arrow"}, "mark": {"type": "rule", "strokeWidth": 1}, "encoding": {"x2": {"field": "x2"}, "y2": {"field": "y2"}}},
              {"data": {"name": "c7_arrow"}, "mark": {"type": "point", "shape": "M0,0L0.45,1.8L-0.45,1.8Z", "filled": true, "size": 80, "color": "#231f20", "opacity": 1}, "encoding": {"angle": {"field": "a", "type": "quantitative", "scale": null}}},
              {"data": {"name": "c7_text"}, "mark": {"type": "text", "align": "left", "baseline": "middle"}, "encoding": {"text": {"field": "t", "type": "nominal"}}},
              {"data": {"values": [{"x": 40, "y": -0.023, "t": "3682 G07"}]}, "mark": {"type": "text", "align": "right", "baseline": "middle", "fontSize": 7.5}, "encoding": {"text": {"field": "t", "type": "nominal"}}}
            ]
          },
          {
            "width": 275, "height": 275,
            "title": {"text": "Maximum Load Current"},
            "encoding": {
              "x": {"field": "x", "type": "quantitative", "scale": {"domain": [8, 20]}, "axis": {"title": "INPUT VOLTAGE (V)", "values": [8,10,12,14,16,18,20], "titlePadding": 10}},
              "y": {"field": "y", "type": "quantitative", "scale": {"domain": [0.25, 1.5]}, "axis": {"title": "LOAD CURRENT (A)", "values": [0.25,0.5,0.75,1,1.25,1.5], "labelExpr": "format(datum.value,'~g')", "titlePadding": 9}}
            },
            "layer": [
              {"data": {"name": "c8_box"}, "mark": {"type": "rect", "color": "white"}, "encoding": {"x2": {"field": "x2"}, "y2": {"field": "y2"}}},
              {"data": {"name": "c8"}, "mark": {"type": "line"}, "encoding": {"detail": {"field": "k", "type": "nominal"}, "strokeDash": {"field": "s", "type": "nominal", "scale": {"domain": ["SYNC = 0V", "SYNC = 5V"], "range": [[1,0],[10,5]]}, "legend": null}}},
              {"data": {"name": "c8_leg"}, "transform": [{"filter": "datum.s == 'SYNC = 0V'"}], "mark": {"type": "rule", "strokeWidth": 2.5}, "encoding": {"x2": {"field": "x2"}}},
              {"data": {"name": "c8_leg"}, "transform": [{"filter": "datum.s != 'SYNC = 0V'"}], "mark": {"type": "rule", "strokeWidth": 2.5, "strokeDash": [10,5]}, "encoding": {"x2": {"field": "x2"}}},
              {"data": {"name": "c8_arrow"}, "mark": {"type": "rule", "strokeWidth": 1}, "encoding": {"x2": {"field": "x2"}, "y2": {"field": "y2"}}},
              {"data": {"name": "c8_arrow"}, "mark": {"type": "point", "shape": "M0,0L0.45,1.8L-0.45,1.8Z", "filled": true, "size": 80, "color": "#231f20", "opacity": 1}, "encoding": {"angle": {"field": "a", "type": "quantitative", "scale": null}}},
              {"data": {"name": "c8_text"}, "mark": {"type": "text", "align": "left", "baseline": "middle"}, "encoding": {"text": {"field": "t", "type": "nominal"}}},
              {"data": {"values": [{"x": 20, "y": -0.023, "t": "3682 G08"}]}, "mark": {"type": "text", "align": "right", "baseline": "middle", "fontSize": 7.5}, "encoding": {"text": {"field": "t", "type": "nominal"}}}
            ]
          },
          {
            "width": 275, "height": 275,
            "title": {"text": "Maximum Load Current"},
            "encoding": {
              "x": {"field": "x", "type": "quantitative", "scale": {"domain": [0, 40]}, "axis": {"title": "INPUT VOLTAGE (V)", "values": [0,5,10,15,20,25,30,35,40], "titlePadding": 10}},
              "y": {"field": "y", "type": "quantitative", "scale": {"domain": [0.25, 1.75]}, "axis": {"title": "LOAD CURRENT (A)", "values": [0.25,0.5,0.75,1,1.25,1.5,1.75], "labelExpr": "datum.value==0.5?'0.50':format(datum.value,'~g')", "titlePadding": 11}}
            },
            "layer": [
              {"data": {"name": "c9_box"}, "mark": {"type": "rect", "color": "white"}, "encoding": {"x2": {"field": "x2"}, "y2": {"field": "y2"}}},
              {"data": {"name": "c9"}, "mark": {"type": "line", "interpolate": "monotone"}, "encoding": {"detail": {"field": "k", "type": "nominal"}, "strokeDash": {"field": "s", "type": "nominal", "scale": {"domain": ["SYNC = 0V", "SYNC = 3.3V"], "range": [[1,0],[10,5]]}, "legend": null}}},
              {"data": {"name": "c9_leg"}, "transform": [{"filter": "datum.s == 'SYNC = 0V'"}], "mark": {"type": "rule", "strokeWidth": 2.5}, "encoding": {"x2": {"field": "x2"}}},
              {"data": {"name": "c9_leg"}, "transform": [{"filter": "datum.s != 'SYNC = 0V'"}], "mark": {"type": "rule", "strokeWidth": 2.5, "strokeDash": [10,5]}, "encoding": {"x2": {"field": "x2"}}},
              {"data": {"name": "c9_arrow"}, "mark": {"type": "rule", "strokeWidth": 1}, "encoding": {"x2": {"field": "x2"}, "y2": {"field": "y2"}}},
              {"data": {"name": "c9_arrow"}, "mark": {"type": "point", "shape": "M0,0L0.45,1.8L-0.45,1.8Z", "filled": true, "size": 80, "color": "#231f20", "opacity": 1}, "encoding": {"angle": {"field": "a", "type": "quantitative", "scale": null}}},
              {"data": {"name": "c9_text"}, "mark": {"type": "text", "align": "left", "baseline": "middle"}, "encoding": {"text": {"field": "t", "type": "nominal"}}},
              {"data": {"values": [{"x": 40, "y": -0.077, "t": "3682 G09"}]}, "mark": {"type": "text", "align": "right", "baseline": "middle", "fontSize": 7.5}, "encoding": {"text": {"field": "t", "type": "nominal"}}}
            ]
          }
        ]
      }
    ]
  },
  {
    "width": 1031, "height": 120,
    "view": {"stroke": null},
    "encoding": {
      "x": {"field": "x", "type": "quantitative", "scale": {"domain": [0, 1031]}, "axis": null},
      "y": {"field": "y", "type": "quantitative", "scale": {"domain": [0, 120], "reverse": true}, "axis": null}
    },
    "layer": [
      {"data": {"values": [{"x": -57, "y": 48, "x2": 1031, "y2": 55}]}, "mark": {"type": "rect", "color": "#231f20"}, "encoding": {"x2": {"field": "x2"}, "y2": {"field": "y2"}}},
      {"data": {"values": [{"x": 1031, "y": 41, "t": "3682f"}]}, "mark": {"type": "text", "align": "right", "baseline": "alphabetic", "fontSize": 13}, "encoding": {"text": {"field": "t", "type": "nominal"}}},
      {"data": {"values": [{"x": -57, "y": 110, "t": "4"}]}, "mark": {"type": "text", "align": "left", "baseline": "alphabetic", "fontSize": 48}, "encoding": {"text": {"field": "t", "type": "nominal"}}},
      {"data": {"values": [{"x": 866, "y": 110, "t": "LT"}]}, "mark": {"type": "text", "align": "left", "baseline": "alphabetic", "fontSize": 50, "fontWeight": "bold", "fontStyle": "italic", "color": "#8c1c32"}, "encoding": {"text": {"field": "t", "type": "nominal"}}},
      {"data": {"values": [{"x": 947, "y": 100, "t": "LINEAR"}]}, "mark": {"type": "text", "align": "left", "baseline": "alphabetic", "fontSize": 23, "fontWeight": "bold", "color": "#8c1c32"}, "encoding": {"text": {"field": "t", "type": "nominal"}}},
      {"data": {"values": [{"x": 947, "y": 112, "t": "TECHNOLOGY"}]}, "mark": {"type": "text", "align": "left", "baseline": "alphabetic", "fontSize": 11.5, "color": "#8c1c32"}, "encoding": {"text": {"field": "t", "type": "nominal"}}}
    ]
  }
]
}
